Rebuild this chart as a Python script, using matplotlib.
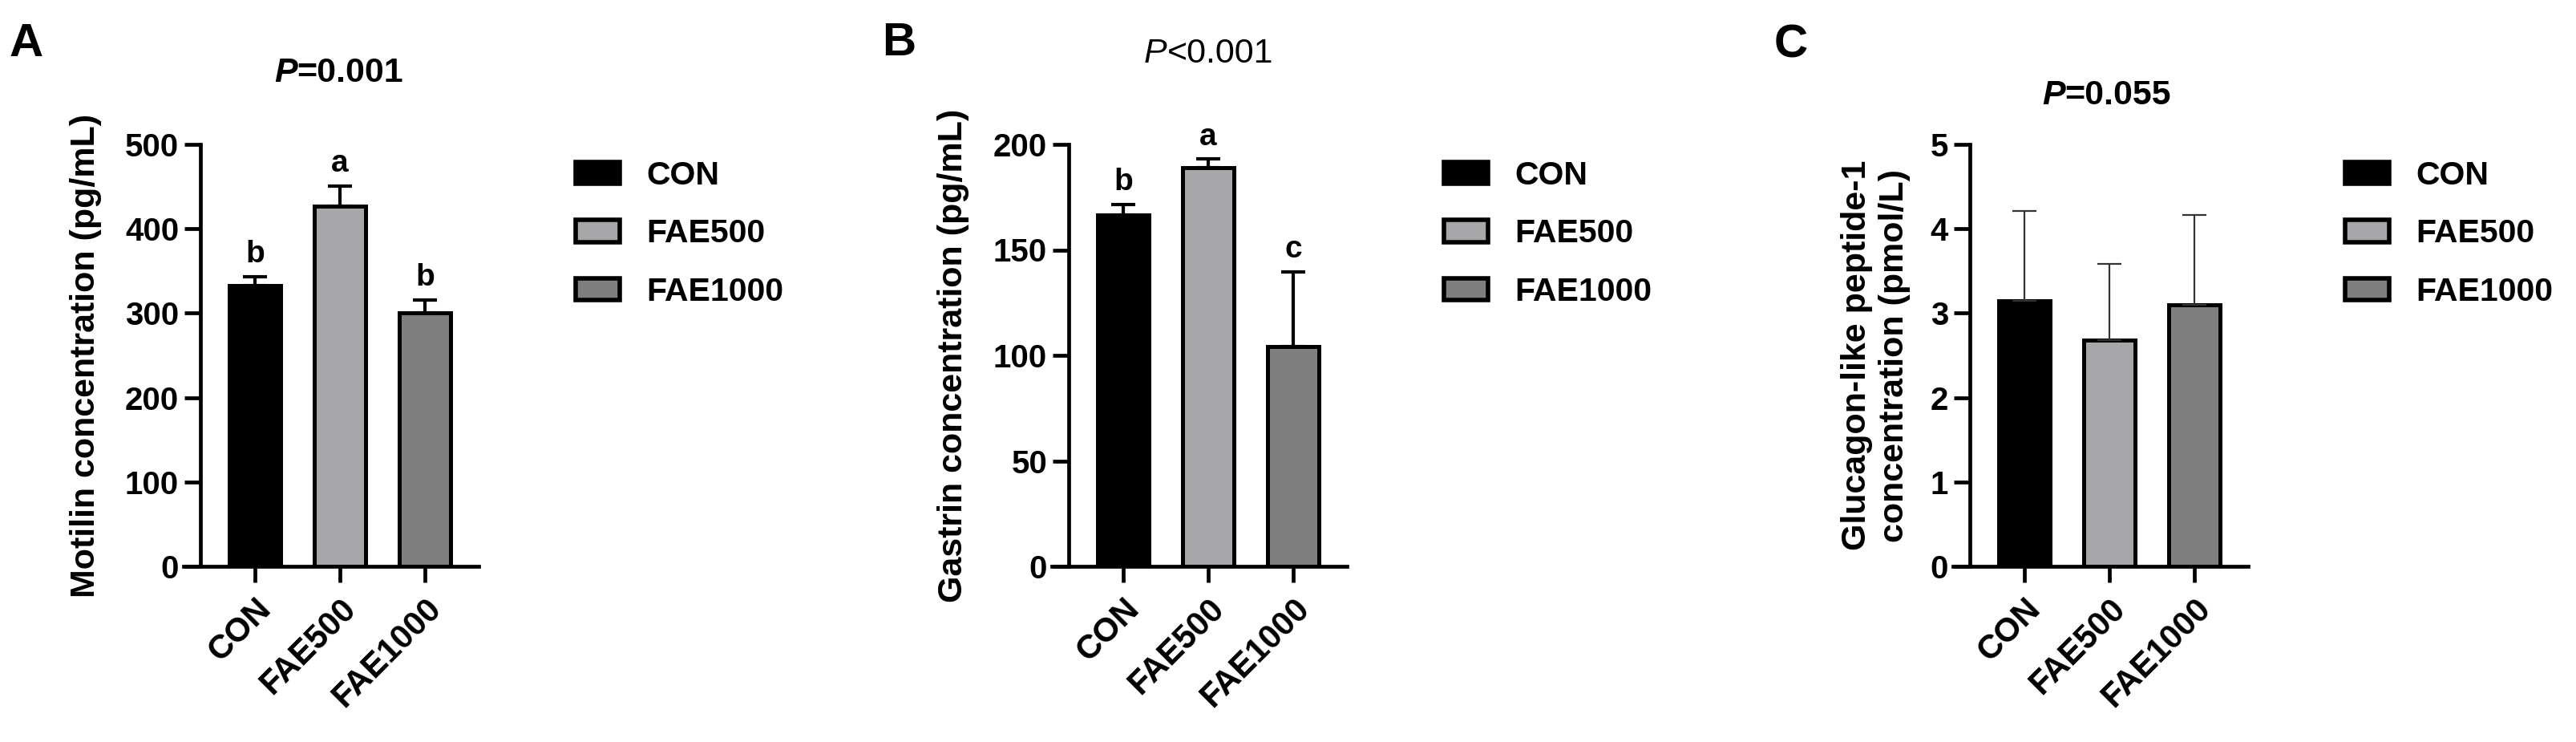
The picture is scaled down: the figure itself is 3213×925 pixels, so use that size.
import numpy as np
import matplotlib
matplotlib.use("Agg")
import matplotlib.pyplot as plt
from matplotlib.patches import Patch

# groups and bar colours
groups = ["CON", "FAE500", "FAE1000"]
bar_colors = ["#000000", "#a7a7aa", "#7f7f7f"]

# panel A: motilin
motilin_mean = [333, 427, 300]
motilin_err = [10, 24, 16]
motilin_letters = ["b", "a", "b"]

# panel B: gastrin
gastrin_mean = [166.5, 189, 104]
gastrin_err = [5, 4, 35.5]
gastrin_letters = ["b", "a", "c"]

# panel C: GLP-1
glp1_mean = [3.15, 2.68, 3.10]
glp1_err = [1.06, 0.90, 1.06]
glp1_letters = ["", "", ""]

y_max = [500, 200, 5]
y_step = [100, 50, 1]
y_labels = ["Motilin concentration (pg/mL)",
            "Gastrin concentration (pg/mL)",
            "Glucagon-like peptide-1\nconcentration (pmol/L)"]
p_values = ["=0.001", "<0.001", "=0.055"]
tags = ["A", "B", "C"]

plt.rcParams["font.family"] = ["Liberation Sans", "DejaVu Sans"]
plt.rcParams["font.weight"] = "bold"

W, H = 3213, 925
U = 106.0  # pixels per category
fig = plt.figure(figsize=(W / 100, H / 100), dpi=100)

# layout in pixels
tick0 = [318, 1401, 2525]
ylab_right = [127, 1209, 2383]
title_pos = [(342, 102), (1427, 78), (2547, 130)]
title_bold = [True, False, True]
tag_pos = [(12, 28), (1100, 27), (2213, 30)]

means = [motilin_mean, gastrin_mean, glp1_mean]
errs = [motilin_err, gastrin_err, glp1_err]
letters = [motilin_letters, gastrin_letters, glp1_letters]
err_lw = [3, 3, 1.6]
err_col = ["black", "black", "#333333"]

x = np.arange(len(groups))
for k in range(3):
    left_px = tick0[k] - 0.84 * U
    ax = fig.add_axes([left_px / W, 1 - 706 / H, 3.47 * U / W, (706 - 180) / H])
    ax.bar(x, means[k], width=0.61, color=bar_colors, edgecolor="black",
           linewidth=3.6, zorder=2)
    ax.errorbar(x, means[k], yerr=[np.zeros(3), errs[k]], fmt="none",
                ecolor=err_col[k], elinewidth=err_lw[k], capsize=11,
                capthick=err_lw[k], zorder=3)
    for i, l in enumerate(letters[k]):
        if l:
            ax.annotate(l, (x[i], means[k][i] + errs[k][i]), xytext=(0, 7),
                        textcoords="offset points", ha="center", va="bottom",
                        fontsize=28, fontweight="bold", annotation_clip=False)
    ax.set_xlim(-0.84, 2.63)
    ax.set_ylim(0, y_max[k])
    ax.set_yticks(np.arange(0, y_max[k] + y_step[k] / 2, y_step[k]))
    ax.set_xticks(x, groups, rotation=45, ha="right", rotation_mode="anchor")
    ax.spines["left"].set_position(("data", -0.64))
    ax.spines[["top", "right"]].set_visible(False)
    for s in ["left", "bottom"]:
        ax.spines[s].set_linewidth(3.4)
    ax.tick_params(length=14.5, width=3.4, labelsize=29, pad=5)
    ax.tick_params(axis="x", labelsize=30, pad=9)
    ax.set_ylabel(y_labels[k], fontsize=31, fontweight="bold", linespacing=1.22)
    ax.yaxis.set_label_coords((ylab_right[k] - left_px) / (3.47 * U), 0.5)

    # title with italic P
    tx, ty = title_pos[k]
    fw = "bold" if title_bold[k] else "normal"
    t1 = fig.text(tx / W, 1 - ty / H, "P", fontsize=31, fontstyle="italic",
                  fontweight=fw, va="baseline", ha="left")
    ax.annotate(p_values[k], xy=(1, 0), xycoords=t1, ha="left", va="bottom",
                fontsize=31, fontweight=fw, annotation_clip=False)

    gx, gy = tag_pos[k]
    fig.text(gx / W, 1 - gy / H, tags[k], fontsize=42, fontweight="bold",
             va="top", ha="left")

    handles = [Patch(facecolor=c, edgecolor="black", linewidth=4) for c in bar_colors]
    fig.legend(handles, groups, loc="upper left",
               bbox_to_anchor=((tick0[k] + 400) / W, 1 - 200 / H),
               frameon=False, fontsize=29.5, handlelength=1.35, handleheight=0.65,
               handletextpad=0.8, labelspacing=0.84, borderpad=0,
               borderaxespad=0)

fig.savefig("out.png", dpi=100, facecolor="white")
